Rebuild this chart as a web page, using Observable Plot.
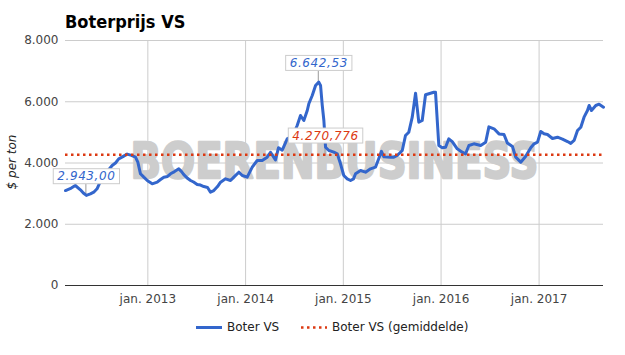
<!DOCTYPE html>
<html>
<head>
<meta charset="utf-8">
<script src="https://cdn.jsdelivr.net/npm/d3@7"></script>
<script src="https://cdn.jsdelivr.net/npm/@observablehq/plot@0.6"></script>
<style>
  html, body { margin: 0; padding: 0; background: #fff; }
  #wrap { position: relative; width: 625px; height: 355px; overflow: hidden; font-family: "DejaVu Sans", sans-serif; }
  #title { position: absolute; left: 65px; top: 12px; font: bold 18px/20px "DejaVu Sans Condensed", "DejaVu Sans", sans-serif; color: #000; white-space: nowrap; }
  #chart { position: absolute; left: 0; top: 30px; }
  #ylabel { position: absolute; left: 12px; top: 162px; transform: translate(-50%, -50%) rotate(-90deg); font: italic 12px "DejaVu Sans", sans-serif; color: #222; white-space: nowrap; }
  .lg-sw { position: absolute; top: 324px; }
  .lg-tx { position: absolute; top: 320px; font: 12px/15px "DejaVu Sans", sans-serif; color: #222; white-space: nowrap; }
</style>
</head>
<body>
<div id="wrap">
  <div id="title"></div>
  <div id="chart"></div>
  <div id="ylabel"></div>
  <div id="legend"></div>
</div>
<script>
// ---- Data (dates as decimal years, prices in $ per ton) ----
const titleText = "Boterprijs VS";
const yAxisLabel = "$ per ton";
const seriesNames = ["Boter VS", "Boter VS (gemiddelde)"];
const watermark = "BOERENBUSINESS";

const decYears = [
  2012.160, 2012.219, 2012.260, 2012.312, 2012.342, 2012.373, 2012.414, 2012.448, 2012.482, 2012.516,
  2012.567, 2012.636, 2012.670, 2012.703, 2012.741, 2012.789, 2012.833, 2012.874, 2012.898, 2012.925,
  2012.959, 2012.997, 2013.045, 2013.096, 2013.130, 2013.164, 2013.202, 2013.232, 2013.273, 2013.317,
  2013.345, 2013.368, 2013.406, 2013.437, 2013.468, 2013.505, 2013.539, 2013.573, 2013.611, 2013.641,
  2013.675, 2013.713, 2013.744, 2013.795, 2013.846, 2013.880, 2013.931, 2013.966, 2014.017, 2014.068,
  2014.119, 2014.170, 2014.221, 2014.255, 2014.286, 2014.306, 2014.337, 2014.375, 2014.426, 2014.460,
  2014.491, 2014.528, 2014.562, 2014.596, 2014.631, 2014.647, 2014.682, 2014.716, 2014.749, 2014.767,
  2014.784, 2014.801, 2014.818, 2014.852, 2014.903, 2014.938, 2014.971, 2015.005, 2015.040, 2015.074,
  2015.104, 2015.125, 2015.176, 2015.227, 2015.278, 2015.329, 2015.363, 2015.390, 2015.415, 2015.483,
  2015.517, 2015.551, 2015.603, 2015.636, 2015.670, 2015.705, 2015.739, 2015.772, 2015.807, 2015.841,
  2015.926, 2015.943, 2015.977, 2016.012, 2016.046, 2016.079, 2016.114, 2016.165, 2016.216, 2016.250,
  2016.284, 2016.335, 2016.404, 2016.455, 2016.488, 2016.540, 2016.591, 2016.642, 2016.677, 2016.728,
  2016.762, 2016.813, 2016.864, 2016.915, 2016.949, 2016.984, 2017.017, 2017.051, 2017.086, 2017.137,
  2017.188, 2017.239, 2017.291, 2017.324, 2017.358, 2017.393, 2017.427, 2017.460, 2017.495, 2017.512,
  2017.536, 2017.580, 2017.614, 2017.659
];
const prices = [
  3100, 3180, 3265, 3125, 3020, 2943, 2990, 3047, 3157, 3400,
  3650, 3918, 4000, 4137, 4200, 4290, 4250, 4190, 4027, 3647,
  3537, 3420, 3320, 3374, 3460, 3537, 3560, 3647, 3720, 3810,
  3720, 3620, 3500, 3429, 3380, 3300, 3280, 3230, 3200, 3047,
  3100, 3230, 3374, 3484, 3429, 3537, 3700, 3592, 3537, 3863,
  4082, 4082, 4190, 4350, 4200, 4100, 4500, 4420, 4790, 4850,
  4950, 5224, 5551, 5388, 5714, 5933, 6204, 6531, 6642.53, 6531,
  5900, 5388, 4516, 4408, 4353, 4300, 3973, 3592, 3484, 3429,
  3480, 3647, 3755, 3700, 3810, 3863, 4150, 4380, 4200, 4190,
  4190, 4245, 4408, 4898, 5006, 5496, 6280, 5333, 5388, 6230,
  6312, 6312, 4571, 4500, 4516, 4790, 4700, 4463, 4353, 4300,
  4571, 4627, 4571, 4680, 5180, 5116, 4950, 4931, 4650, 4540,
  4190, 4027, 4220, 4500, 4627, 4680, 5030, 4953, 4930, 4800,
  4843, 4780, 4700, 4640, 4735, 5061, 5169, 5496, 5714, 5878,
  5714, 5878, 5920, 5823
];
const meanValue = 4270.776;

const yTicks = [0, 2000, 4000, 6000, 8000];
const yearTicks = ["2013-01-01", "2014-01-01", "2015-01-01", "2016-01-01", "2017-01-01"];
const tickPrefix = "jan. ";

// annotations: min, max, mean
const annYears = [2012.373, 2014.749, 2014.818];
const annValues = [2943.00, 6642.53, 4270.776];
const annDigits = [2, 2, 3];
const annColors = ["#3366cc", "#3366cc", "#dc3912"];

// ---- Build ----
const nl = d3.formatLocale({decimal: ",", thousands: ".", grouping: [3], currency: ["$", ""]});
function fromDecYear(v) {
  const y = Math.floor(v);
  const a = Date.UTC(y, 0, 1), b = Date.UTC(y + 1, 0, 1);
  return new Date(a + (v - y) * (b - a));
}
const rows = decYears.map((v, i) => ({date: fromDecYear(v), price: prices[i]}));
const yearTickDates = yearTicks.map(s => new Date(s + "T00:00:00Z"));
const annotations = annYears.map((v, i) => ({
  date: fromDecYear(v), value: annValues[i],
  label: nl.format(",." + annDigits[i] + "f")(annValues[i]), color: annColors[i]
}));

document.getElementById("title").textContent = titleText;
document.getElementById("ylabel").textContent = yAxisLabel;

const plot = Plot.plot({
  width: 625, height: 290,
  marginLeft: 65, marginRight: 22, marginTop: 10, marginBottom: 35,
  style: {fontFamily: "DejaVu Sans, sans-serif", fontSize: "12px", color: "#444", background: "transparent", overflow: "visible"},
  x: {type: "utc", domain: d3.extent(rows, d => d.date), ticks: yearTickDates,
      tickFormat: d => tickPrefix + d.getUTCFullYear(), tickSize: 0, tickPadding: 9, label: null},
  y: {domain: [0, 8000], ticks: yTicks, tickFormat: nl.format(",.0f"), tickSize: 0, tickPadding: 7, label: null},
  color: {type: "identity"},
  marks: [
    Plot.ruleY(yTicks.filter(v => v > 0), {stroke: "#cccccc", strokeWidth: 1}),
    Plot.ruleX(yearTickDates, {stroke: "#cccccc", strokeWidth: 1}),
    Plot.text([watermark], {frameAnchor: "middle", fontSize: 50, fontWeight: "bold", fill: "#cdcdcd", stroke: "#cdcdcd", strokeWidth: 2.5, dy: -1}),
    Plot.line(rows, {x: "date", y: "price", stroke: "#3366cc", strokeWidth: 3, strokeLinejoin: "round", strokeLinecap: "round"}),
    Plot.ruleY([meanValue], {stroke: "#dc3912", strokeWidth: 2.5, strokeDasharray: "2.5,3.5"}),
    Plot.ruleY([0], {stroke: "#333333", strokeWidth: 1}),
    Plot.text(annotations, {x: "date", y: "value", text: "label", fill: "color", dy: -19, fontStyle: "italic", fontSize: 12})
  ]
});
document.getElementById("chart").append(plot);

// ---- Post-processing: watermark width, annotation boxes and stems ----
const svg = plot.tagName.toLowerCase() === "svg" ? plot : plot.querySelector("svg");
const NS = "http://www.w3.org/2000/svg";
const texts = Array.from(svg.querySelectorAll("text"));
const wm = texts.find(t => t.textContent === watermark);
if (wm) { wm.setAttribute("textLength", "408"); wm.setAttribute("lengthAdjust", "spacingAndGlyphs"); }

const sx = plot.scale("x"), sy = plot.scale("y");
const svgRect = svg.getBoundingClientRect();
const stemG = document.createElementNS(NS, "g");
const boxG = document.createElementNS(NS, "g");
let annGroup = null;
annotations.forEach(a => {
  const t = texts.find(el => el.textContent === a.label);
  if (!t) return;
  t.style.letterSpacing = "0.6px";
  annGroup = t.parentNode;
  const r = t.getBoundingClientRect();
  const x0 = r.left - svgRect.left - 4, y0 = r.top - svgRect.top - 0.5;
  const w = r.width + 8, h = r.height + 1;
  const rect = document.createElementNS(NS, "rect");
  rect.setAttribute("x", x0); rect.setAttribute("y", y0);
  rect.setAttribute("width", w); rect.setAttribute("height", h);
  rect.setAttribute("fill", "#fff"); rect.setAttribute("stroke", "#cccccc"); rect.setAttribute("stroke-width", 1);
  boxG.append(rect);
  const px = sx.apply(a.date), py = sy.apply(a.value);
  const ln = document.createElementNS(NS, "line");
  ln.setAttribute("x1", px); ln.setAttribute("x2", px);
  ln.setAttribute("y1", y0 + h); ln.setAttribute("y2", py);
  ln.setAttribute("stroke", "#999999"); ln.setAttribute("stroke-width", 1);
  stemG.append(ln);
});
const lineG = svg.querySelector('g[aria-label="line"]');
if (lineG) lineG.parentNode.insertBefore(stemG, lineG); else svg.append(stemG);
if (annGroup) annGroup.parentNode.insertBefore(boxG, annGroup); else svg.append(boxG);

// ---- Legend ----
const legend = document.getElementById("legend");
const swatches = [
  {left: 196, color: "#3366cc", width: 3, dash: null, textLeft: 227},
  {left: 301, color: "#dc3912", width: 2.5, dash: "2.5,3.5", textLeft: 332}
];
swatches.forEach((s, i) => {
  const sw = document.createElementNS(NS, "svg");
  sw.setAttribute("width", 26); sw.setAttribute("height", 7);
  sw.setAttribute("class", "lg-sw");
  sw.style.left = s.left + "px";
  const l = document.createElementNS(NS, "line");
  l.setAttribute("x1", 0); l.setAttribute("x2", 26); l.setAttribute("y1", 3.5); l.setAttribute("y2", 3.5);
  l.setAttribute("stroke", s.color); l.setAttribute("stroke-width", s.width);
  if (s.dash) l.setAttribute("stroke-dasharray", s.dash);
  sw.append(l);
  legend.append(sw);
  const tx = document.createElement("div");
  tx.className = "lg-tx"; tx.style.left = s.textLeft + "px";
  tx.textContent = seriesNames[i];
  legend.append(tx);
});
</script>
</body>
</html>
